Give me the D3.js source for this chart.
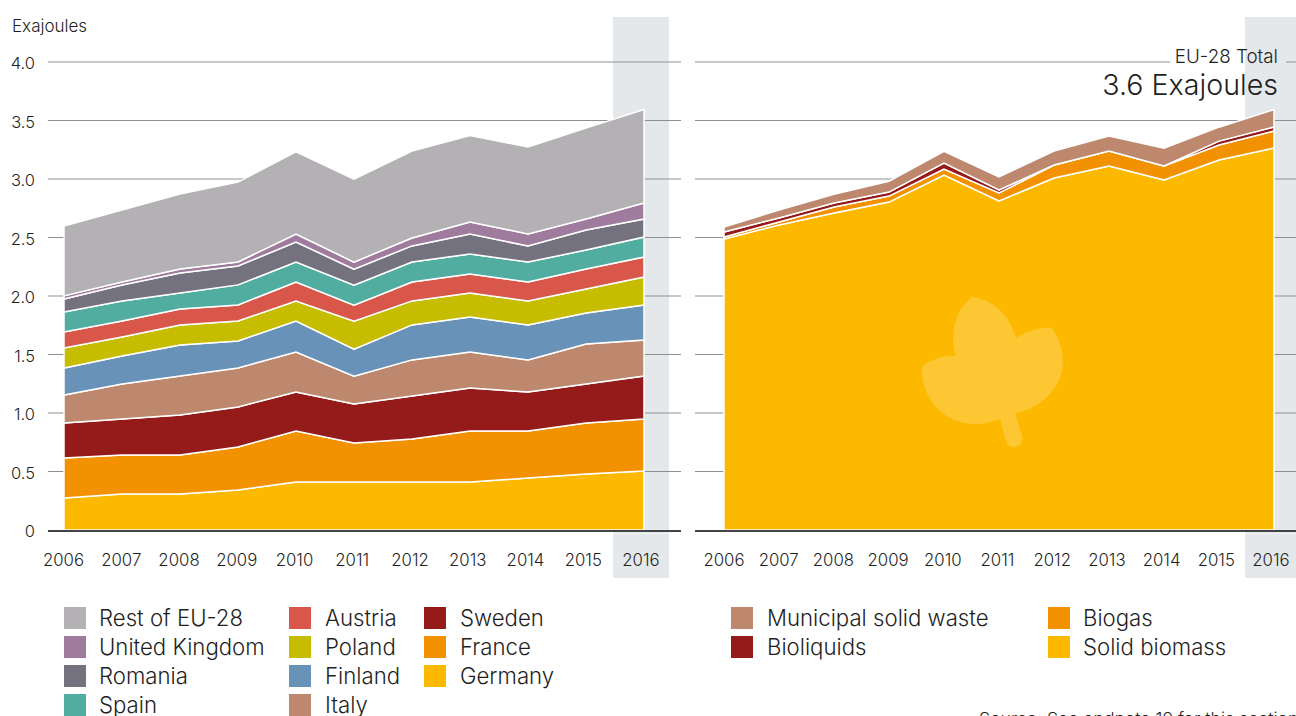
<!DOCTYPE html>
<html>
<head>
<meta charset="utf-8">
<script src="https://cdn.jsdelivr.net/npm/d3@7/dist/d3.min.js"></script>
<style>
html,body{margin:0;padding:0;background:#fff;overflow:hidden}
svg{display:block}
text{font-family:Inter,"Noto Sans",sans-serif;fill:#1f1f1f;font-weight:300}
</style>
</head>
<body>
<svg id="c" width="1296" height="716"></svg>
<script>
const years = [2006,2007,2008,2009,2010,2011,2012,2013,2014,2015,2016];
const yTicks = [0,0.5,1.0,1.5,2.0,2.5,3.0,3.5,4.0];

const germany = [.274,.308,.308,.342,.410,.410,.410,.410,.444,.479,.504];
const france  = [.342,.333,.333,.368,.436,.333,.368,.436,.402,.436,.444];
const sweden  = [.299,.308,.342,.342,.333,.333,.368,.368,.333,.333,.368];
const italy   = [.239,.299,.333,.333,.342,.239,.308,.308,.274,.342,.308];
const finland = [.231,.239,.265,.231,.265,.231,.299,.299,.299,.265,.299];
const poland  = [.171,.162,.171,.171,.171,.239,.205,.205,.205,.205,.239];
const austria = [.137,.137,.137,.137,.162,.137,.162,.162,.162,.171,.171];
const spain   = [.171,.171,.137,.171,.171,.171,.171,.171,.171,.162,.171];
const romania = [.111,.137,.171,.162,.171,.137,.137,.171,.137,.171,.154];
const uk      = [.026,.026,.034,.034,.068,.060,.068,.103,.103,.094,.137];
const rest    = [.598,.615,.640,.683,.704,.709,.743,.738,.743,.777,.798];

const solidBiomass = [2.487,2.607,2.709,2.803,3.034,2.812,3.009,3.111,2.991,3.162,3.265];
const biogas       = [.017,.026,.051,.051,.051,.068,.111,.128,.120,.128,.145];
const bioliquids   = [.043,.034,.034,.034,.051,.026,0,0,0,.034,.034];
const msw          = [.042,.068,.076,.093,.101,.111,.119,.128,.153,.119,.149];

const leftNames  = ["Germany","France","Sweden","Italy","Finland","Poland","Austria","Spain","Romania","United Kingdom","Rest of EU-28"];
const leftValues = [germany,france,sweden,italy,finland,poland,austria,spain,romania,uk,rest];
const leftColors = ["#fcb900","#f39200","#951b1a","#bd886e","#6992b8","#c6bd00","#d9564b","#50ad9f","#74727e","#9f7c9d","#b3b1b3"];

const rightNames  = ["Solid biomass","Biogas","Bioliquids","Municipal solid waste"];
const rightValues = [solidBiomass,biogas,bioliquids,msw];
const rightColors = ["#fcb900","#f39200","#951b1a","#bd886e"];

const leftLegend = [["Rest of EU-28","United Kingdom","Romania","Spain"],["Austria","Poland","Finland","Italy"],["Sweden","France","Germany"]];
const rightLegend = [["Municipal solid waste","Bioliquids"],["Biogas","Solid biomass"]];

const svg = d3.select("#c");
const y = d3.scaleLinear().domain([0,4]).range([530,62]);
const bandColor = "#e5e8eb";

function panel(o){
  const g = svg.append("g");
  const x = d3.scaleLinear().domain([2006,2016]).range(o.xRange);
  const labelX = d3.scaleLinear().domain([2006,2016]).range(o.labelRange);

  g.append("rect").attr("x",o.band[0]).attr("width",o.band[1]-o.band[0]).attr("y",17).attr("height",516.5).attr("fill",bandColor);
  g.append("rect").attr("x",o.band[0]).attr("width",o.band[1]-o.band[0]).attr("y",534).attr("height",44).attr("fill",bandColor);

  g.selectAll("line.grid").data(yTicks.filter(d=>d>0)).join("line").attr("class","grid")
    .attr("x1",o.grid[0]).attr("x2",o.grid[1]).attr("y1",d=>y(d)).attr("y2",d=>y(d))
    .attr("stroke","#8f8f8f").attr("stroke-width",1.2);

  if(o.after) o.after(g);

  const table = years.map((yr,i)=>{const r={year:yr};o.names.forEach((n,k)=>r[n]=o.values[k][i]);return r;});
  const stacked = d3.stack().keys(o.names)(table);
  const area = d3.area().x(d=>x(d.data.year)).y0(d=>y(d[0])).y1(d=>y(d[1]));
  g.selectAll("path.a").data(stacked).join("path").attr("class","a")
    .attr("d",area).attr("fill",(d,i)=>o.colors[i])
    .attr("stroke","#fff").attr("stroke-width",1.5).attr("stroke-linejoin","miter");

  g.append("line").attr("x1",o.grid[0]).attr("x2",o.grid[1]).attr("y1",531).attr("y2",531)
    .attr("stroke","#444").attr("stroke-width",2);

  const ax = d3.axisBottom(labelX).tickValues(years).tickFormat(d3.format("d")).tickSize(0);
  const axg = g.append("g").attr("transform","translate(0,554)").call(ax);
  axg.select(".domain").remove();
  axg.selectAll("text").attr("font-size",16.8).attr("dy",0).attr("dominant-baseline","middle").attr("y",7);
  return g;
}

panel({xRange:[64,644],labelRange:[63,640.5],band:[613,669],grid:[48,681],names:leftNames,values:leftValues,colors:leftColors});
panel({xRange:[724,1274],labelRange:[723.5,1270.5],band:[1245,1296],grid:[695,1296],names:rightNames,values:rightValues,colors:rightColors,
  after(g){
    // break in the 4.0 grid line behind the total label
    g.append("rect").attr("x",1170).attr("y",60).attr("width",75).attr("height",4).attr("fill","#fff");
    g.append("rect").attr("x",1245).attr("y",60).attr("width",41).attr("height",4).attr("fill",bandColor);
  }});

// leaf icon
svg.append("path")
  .attr("d","M922 367C932 359 944 355 956 356C949 333 955 311 972 297C994 300 1010 316 1016 338C1027 331 1040 327 1052 328C1062 344 1066 361 1060 378C1052 396 1036 410 1015 413L1022 436C1025 447 1009 452 1006 441L1000 419C976 429 951 424 935 406C926 395 921 381 922 367Z")
  .attr("fill","#fcc733");

// y tick labels
const ya = d3.axisLeft(y).tickValues(yTicks).tickFormat(d=>d===0?"0":d3.format(".1f")(d)).tickSize(0);
const yg = svg.append("g").attr("transform","translate(35,1)").call(ya);
yg.select(".domain").remove();
yg.selectAll("text").attr("font-size",16.5).attr("x",0).attr("dy","0.35em");

svg.append("text").attr("x",12).attr("y",32).attr("font-size",17).text("Exajoules");

svg.append("text").attr("x",1278).attr("y",62.5).attr("text-anchor","end").attr("font-size",18.8).text("EU-28 Total");
svg.append("text").attr("x",1278).attr("y",95).attr("text-anchor","end").attr("font-size",28.6).text("3.6 Exajoules");

// legends
function legend(cols,xs,colorOf){
  cols.forEach((col,ci)=>{
    const g = svg.append("g");
    const row = g.selectAll("g").data(col).join("g").attr("transform",(d,i)=>`translate(${xs[ci][0]},${607+i*29})`);
    row.append("rect").attr("width",22).attr("height",22).attr("fill",d=>colorOf(d));
    row.append("text").attr("x",xs[ci][1]-xs[ci][0]).attr("y",19).attr("font-size",22.2).text(d=>d);
  });
}
const lc = d3.scaleOrdinal(leftNames,leftColors);
const rc = d3.scaleOrdinal(rightNames,rightColors);
legend(leftLegend,[[64,99],[289,325],[424,460]],lc);
legend(rightLegend,[[731,767],[1048,1083]],rc);

svg.append("text").attr("x",979).attr("y",725).attr("font-size",17.6).text("Source: See endnote 19 for this section.");
</script>
</body>
</html>
